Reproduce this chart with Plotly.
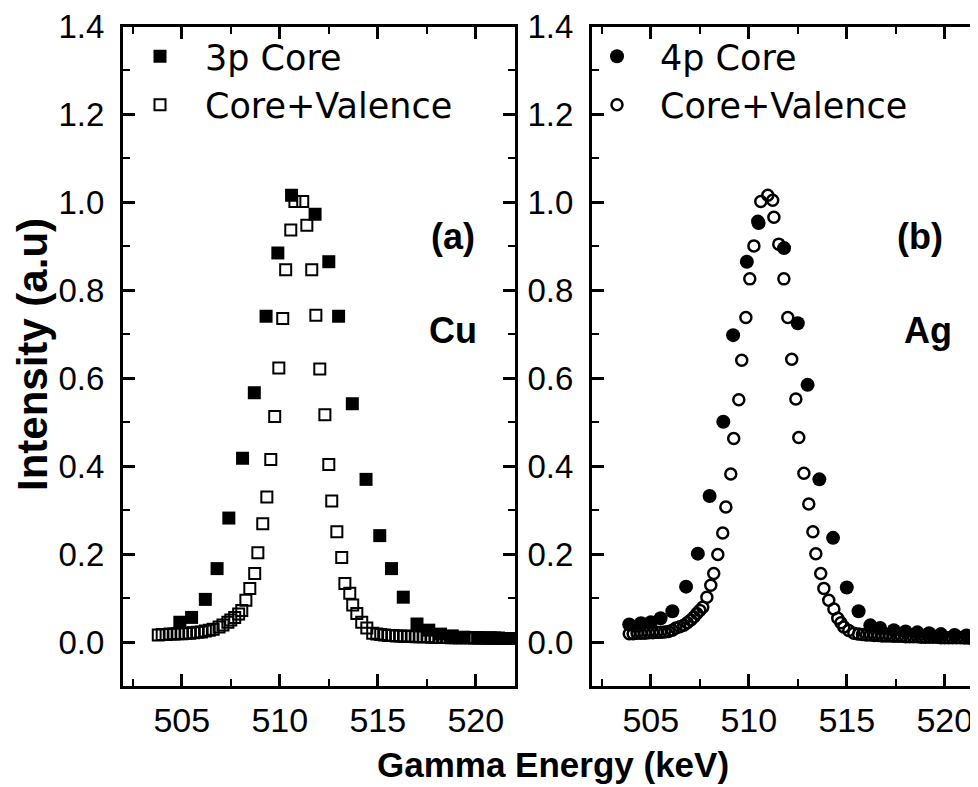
import plotly.graph_objects as go

# ---------------- data ----------------
# Panel (a) Cu
cu_core_x = [504.9, 505.5, 506.2, 506.8, 507.4, 508.1, 508.7, 509.3, 509.9, 510.6,
             511.8, 512.5, 513.0, 513.7, 514.4, 515.1, 515.7, 516.3, 517.0, 517.6,
             518.2, 518.8, 519.4, 520.1, 520.7, 521.3, 521.9]
cu_core_y = [0.045, 0.056, 0.097, 0.167, 0.282, 0.418, 0.567, 0.741, 0.885, 1.016,
             0.973, 0.865, 0.741, 0.542, 0.370, 0.242, 0.167, 0.102, 0.041, 0.027,
             0.018, 0.014, 0.011, 0.010, 0.009, 0.008, 0.008]

cu_cv_x = [503.8, 504.0, 504.2, 504.4, 504.6, 504.8, 505.0, 505.2, 505.4, 505.6,
           505.8, 506.0, 506.2, 506.4, 506.6, 506.9, 507.1, 507.35, 507.5, 507.7,
           507.9, 508.06, 508.27, 508.47, 508.72, 508.88, 509.13, 509.34, 509.54, 509.74,
           509.95, 510.15, 510.3, 510.56, 510.77, 511.17, 511.38, 511.63, 511.84, 512.04,
           512.3, 512.5, 512.65, 512.91, 513.16, 513.32, 513.57, 513.72, 513.93, 514.18,
           514.44, 514.74,
           514.95, 515.15, 515.35, 515.55, 515.75, 515.95, 516.15, 516.35, 516.55, 516.75,
           516.95, 517.15, 517.35, 517.55, 517.75, 517.95, 518.15, 518.35, 518.55, 518.75,
           518.95, 519.15, 519.35, 519.55, 519.75, 519.95, 520.15, 520.35, 520.55, 520.75,
           520.95, 521.15, 521.35, 521.55, 521.75, 521.95]
cu_cv_y = [0.016, 0.017, 0.017, 0.018, 0.018, 0.019, 0.019, 0.020, 0.020, 0.021,
           0.022, 0.023, 0.025, 0.027, 0.029, 0.034, 0.039, 0.045, 0.050, 0.056,
           0.064, 0.072, 0.095, 0.122, 0.156, 0.203, 0.269, 0.330, 0.415, 0.513,
           0.623, 0.736, 0.847, 0.937, 1.002, 1.002, 0.948, 0.847, 0.743, 0.621,
           0.517, 0.404, 0.321, 0.251, 0.192, 0.133, 0.111, 0.084, 0.065, 0.045,
           0.032, 0.020,
           0.018, 0.017, 0.016, 0.015, 0.015, 0.014, 0.014, 0.013, 0.013, 0.013,
           0.012, 0.012, 0.012, 0.012, 0.011, 0.011, 0.011, 0.011, 0.011, 0.010,
           0.010, 0.010, 0.010, 0.010, 0.010, 0.009, 0.009, 0.009, 0.009, 0.009,
           0.009, 0.009, 0.008, 0.008, 0.008, 0.008]

# Panel (b) Ag
ag_core_x = [503.9, 504.5, 505.0, 505.5, 506.1, 506.8, 507.4, 508.0, 508.7, 509.2,
             509.9, 510.5, 511.8, 512.5, 513.0, 513.6, 514.3, 515.0, 515.6, 516.2,
             516.7, 517.4, 518.0, 518.6, 519.2, 519.8, 520.5, 521.1, 521.7]
ag_core_y = [0.040, 0.043, 0.045, 0.054, 0.070, 0.126, 0.201, 0.332, 0.501, 0.698,
             0.865, 0.953, 0.896, 0.725, 0.585, 0.370, 0.237, 0.124, 0.070, 0.038,
             0.032, 0.027, 0.024, 0.022, 0.020, 0.018, 0.016, 0.015, 0.014]

ag_cv_x = [503.9, 504.1, 504.3, 504.5, 504.7, 504.9, 505.1, 505.3, 505.5, 505.7,
           505.9, 506.1, 506.28, 506.48, 506.68, 506.86, 507.04, 507.2, 507.35, 507.5,
           507.65, 507.86, 508.06, 508.21, 508.42, 508.67, 508.83, 509.08, 509.23, 509.49,
           509.64, 509.85, 510.05, 510.26, 510.46, 510.61, 510.97, 511.22, 511.28, 511.53,
           511.79, 511.99, 512.19, 512.4, 512.55, 512.81, 513.06, 513.27, 513.42, 513.67,
           513.83, 514.08, 514.34, 514.54, 514.7, 514.85, 515.1, 515.36,
           515.6, 515.8, 516.0, 516.2, 516.4, 516.6, 516.8, 517.0, 517.2, 517.4,
           517.6, 517.8, 518.0, 518.2, 518.4, 518.6, 518.8, 519.0, 519.2, 519.4,
           519.6, 519.8, 520.0, 520.2, 520.4, 520.6, 520.8, 521.0, 521.2, 521.4,
           521.6, 521.8]
ag_cv_y = [0.019, 0.019, 0.020, 0.020, 0.020, 0.021, 0.021, 0.022, 0.022, 0.023,
           0.024, 0.027, 0.032, 0.035, 0.038, 0.044, 0.050, 0.057, 0.065, 0.072,
           0.079, 0.102, 0.129, 0.156, 0.199, 0.248, 0.307, 0.382, 0.463, 0.551,
           0.641, 0.738, 0.826, 0.901, 0.957, 1.002, 1.016, 1.005, 0.966, 0.905,
           0.826, 0.738, 0.643, 0.553, 0.465, 0.384, 0.314, 0.251, 0.201, 0.156,
           0.122, 0.095, 0.075, 0.054, 0.044, 0.034, 0.026, 0.020,
           0.018, 0.017, 0.016, 0.016, 0.015, 0.015, 0.014, 0.014, 0.014, 0.013,
           0.013, 0.013, 0.012, 0.012, 0.012, 0.012, 0.011, 0.011, 0.011, 0.011,
           0.011, 0.010, 0.010, 0.010, 0.010, 0.010, 0.010, 0.009, 0.009, 0.009,
           0.009, 0.009]

x_range = [502, 522]
y_range = [-0.1, 1.4]
x_major_ticks = [505, 510, 515, 520]
y_major_ticks = [0.0, 0.2, 0.4, 0.6, 0.8, 1.0, 1.2, 1.4]

FONT = "Liberation Sans"
LEG_FONT = "DejaVu Sans"
W, H = 978, 787

fig = go.Figure()

fig.add_trace(go.Scatter(x=cu_core_x, y=cu_core_y, mode="markers", name="3p Core",
                         xaxis="x", yaxis="y", legend="legend", legendgroup="a1",
                         marker=dict(symbol="square", size=13, color="black",
                                     line=dict(width=0))))
fig.add_trace(go.Scatter(x=cu_cv_x, y=cu_cv_y, mode="markers", name="Core+Valence",
                         xaxis="x", yaxis="y", legend="legend", legendgroup="a2",
                         marker=dict(symbol="square-open", size=11, color="black",
                                     line=dict(width=2, color="black"))))
fig.add_trace(go.Scatter(x=ag_core_x, y=ag_core_y, mode="markers", name="4p Core",
                         xaxis="x2", yaxis="y2", legend="legend2", legendgroup="b1",
                         marker=dict(symbol="circle", size=14, color="black",
                                     line=dict(width=0))))
fig.add_trace(go.Scatter(x=ag_cv_x, y=ag_cv_y, mode="markers", name="Core+Valence",
                         xaxis="x2", yaxis="y2", legend="legend2", legendgroup="b2",
                         marker=dict(symbol="circle-open", size=11, color="black",
                                     line=dict(width=2.5, color="black"))))


def xaxis(dom, anchor):
    return dict(domain=dom, range=x_range, anchor=anchor, automargin=False,
                showline=True, linewidth=3,
                linecolor="black", mirror="ticks", ticks="inside", ticklen=12,
                tickwidth=2.5, tickcolor="black", showgrid=False, zeroline=False,
                tickvals=x_major_ticks, ticklabelstandoff=2, ticklabeloverflow="allow",
                tickfont=dict(family=FONT, size=34, color="black"),
                minor=dict(ticks="inside", ticklen=7, tickwidth=2, tickcolor="black",
                           tick0=502.5, dtick=2.5, showgrid=False))


def yaxis(dom, anchor):
    return dict(domain=dom, range=y_range, anchor=anchor, automargin=False,
                showline=True, linewidth=3,
                linecolor="black", mirror="ticks", ticks="inside", ticklen=12,
                tickwidth=2.5, tickcolor="black", showgrid=False, zeroline=False,
                tickvals=y_major_ticks, tickformat=".1f", ticklabelstandoff=9,
                ticklabeloverflow="allow",
                tickfont=dict(family=FONT, size=33, color="black"),
                minor=dict(ticks="inside", ticklen=7, tickwidth=2, tickcolor="black",
                           tick0=0, dtick=0.1, showgrid=False))


ydom = [1 - 678 / H, 1 - 18.5 / H]
fig.update_layout(
    width=W, height=H,
    margin=dict(l=0, r=0, t=0, b=0, autoexpand=False),
    paper_bgcolor="white", plot_bgcolor="white",
    xaxis=xaxis([115 / W, 507 / W], "y"),
    yaxis=yaxis(ydom, "x"),
    xaxis2=xaxis([584 / W, 976 / W], "y2"),
    yaxis2=yaxis(ydom, "x2"),
    legend=dict(x=107 / W, y=1 - 19 / H, xanchor="left", yanchor="top",
                bgcolor="rgba(0,0,0,0)", tracegroupgap=0, itemwidth=80,
                font=dict(family=LEG_FONT, size=35, color="black")),
    legend2=dict(x=566 / W, y=1 - 19 / H, xanchor="left", yanchor="top",
                 bgcolor="rgba(0,0,0,0)", tracegroupgap=0, itemwidth=76,
                 font=dict(family=LEG_FONT, size=35, color="black")),
    annotations=[
        dict(text="<b>(a)</b>", x=445 / W, y=1 - 229 / H, xref="paper", yref="paper",
             showarrow=False, xanchor="center", yanchor="middle",
             font=dict(family=FONT, size=36, color="black")),
        dict(text="<b>Cu</b>", x=445 / W, y=1 - 322 / H, xref="paper", yref="paper",
             showarrow=False, xanchor="center", yanchor="middle",
             font=dict(family=FONT, size=36, color="black")),
        dict(text="<b>(b)</b>", x=912 / W, y=1 - 229 / H, xref="paper", yref="paper",
             showarrow=False, xanchor="center", yanchor="middle",
             font=dict(family=FONT, size=36, color="black")),
        dict(text="<b>Ag</b>", x=920 / W, y=1 - 322 / H, xref="paper", yref="paper",
             showarrow=False, xanchor="center", yanchor="middle",
             font=dict(family=FONT, size=36, color="black")),
        dict(text="<b>Gamma Energy (keV)</b>", x=545 / W, y=1 - 756 / H, xref="paper",
             yref="paper", showarrow=False, xanchor="center", yanchor="middle",
             font=dict(family=FONT, size=35, color="black")),
        dict(text="<b>Intensity (a.u)</b>", x=24 / W, y=1 - 347 / H, xref="paper",
             yref="paper", showarrow=False, textangle=-90, xanchor="center",
             yanchor="middle", font=dict(family=FONT, size=42, color="black")),
    ],
)

fig.write_html("out.html")
